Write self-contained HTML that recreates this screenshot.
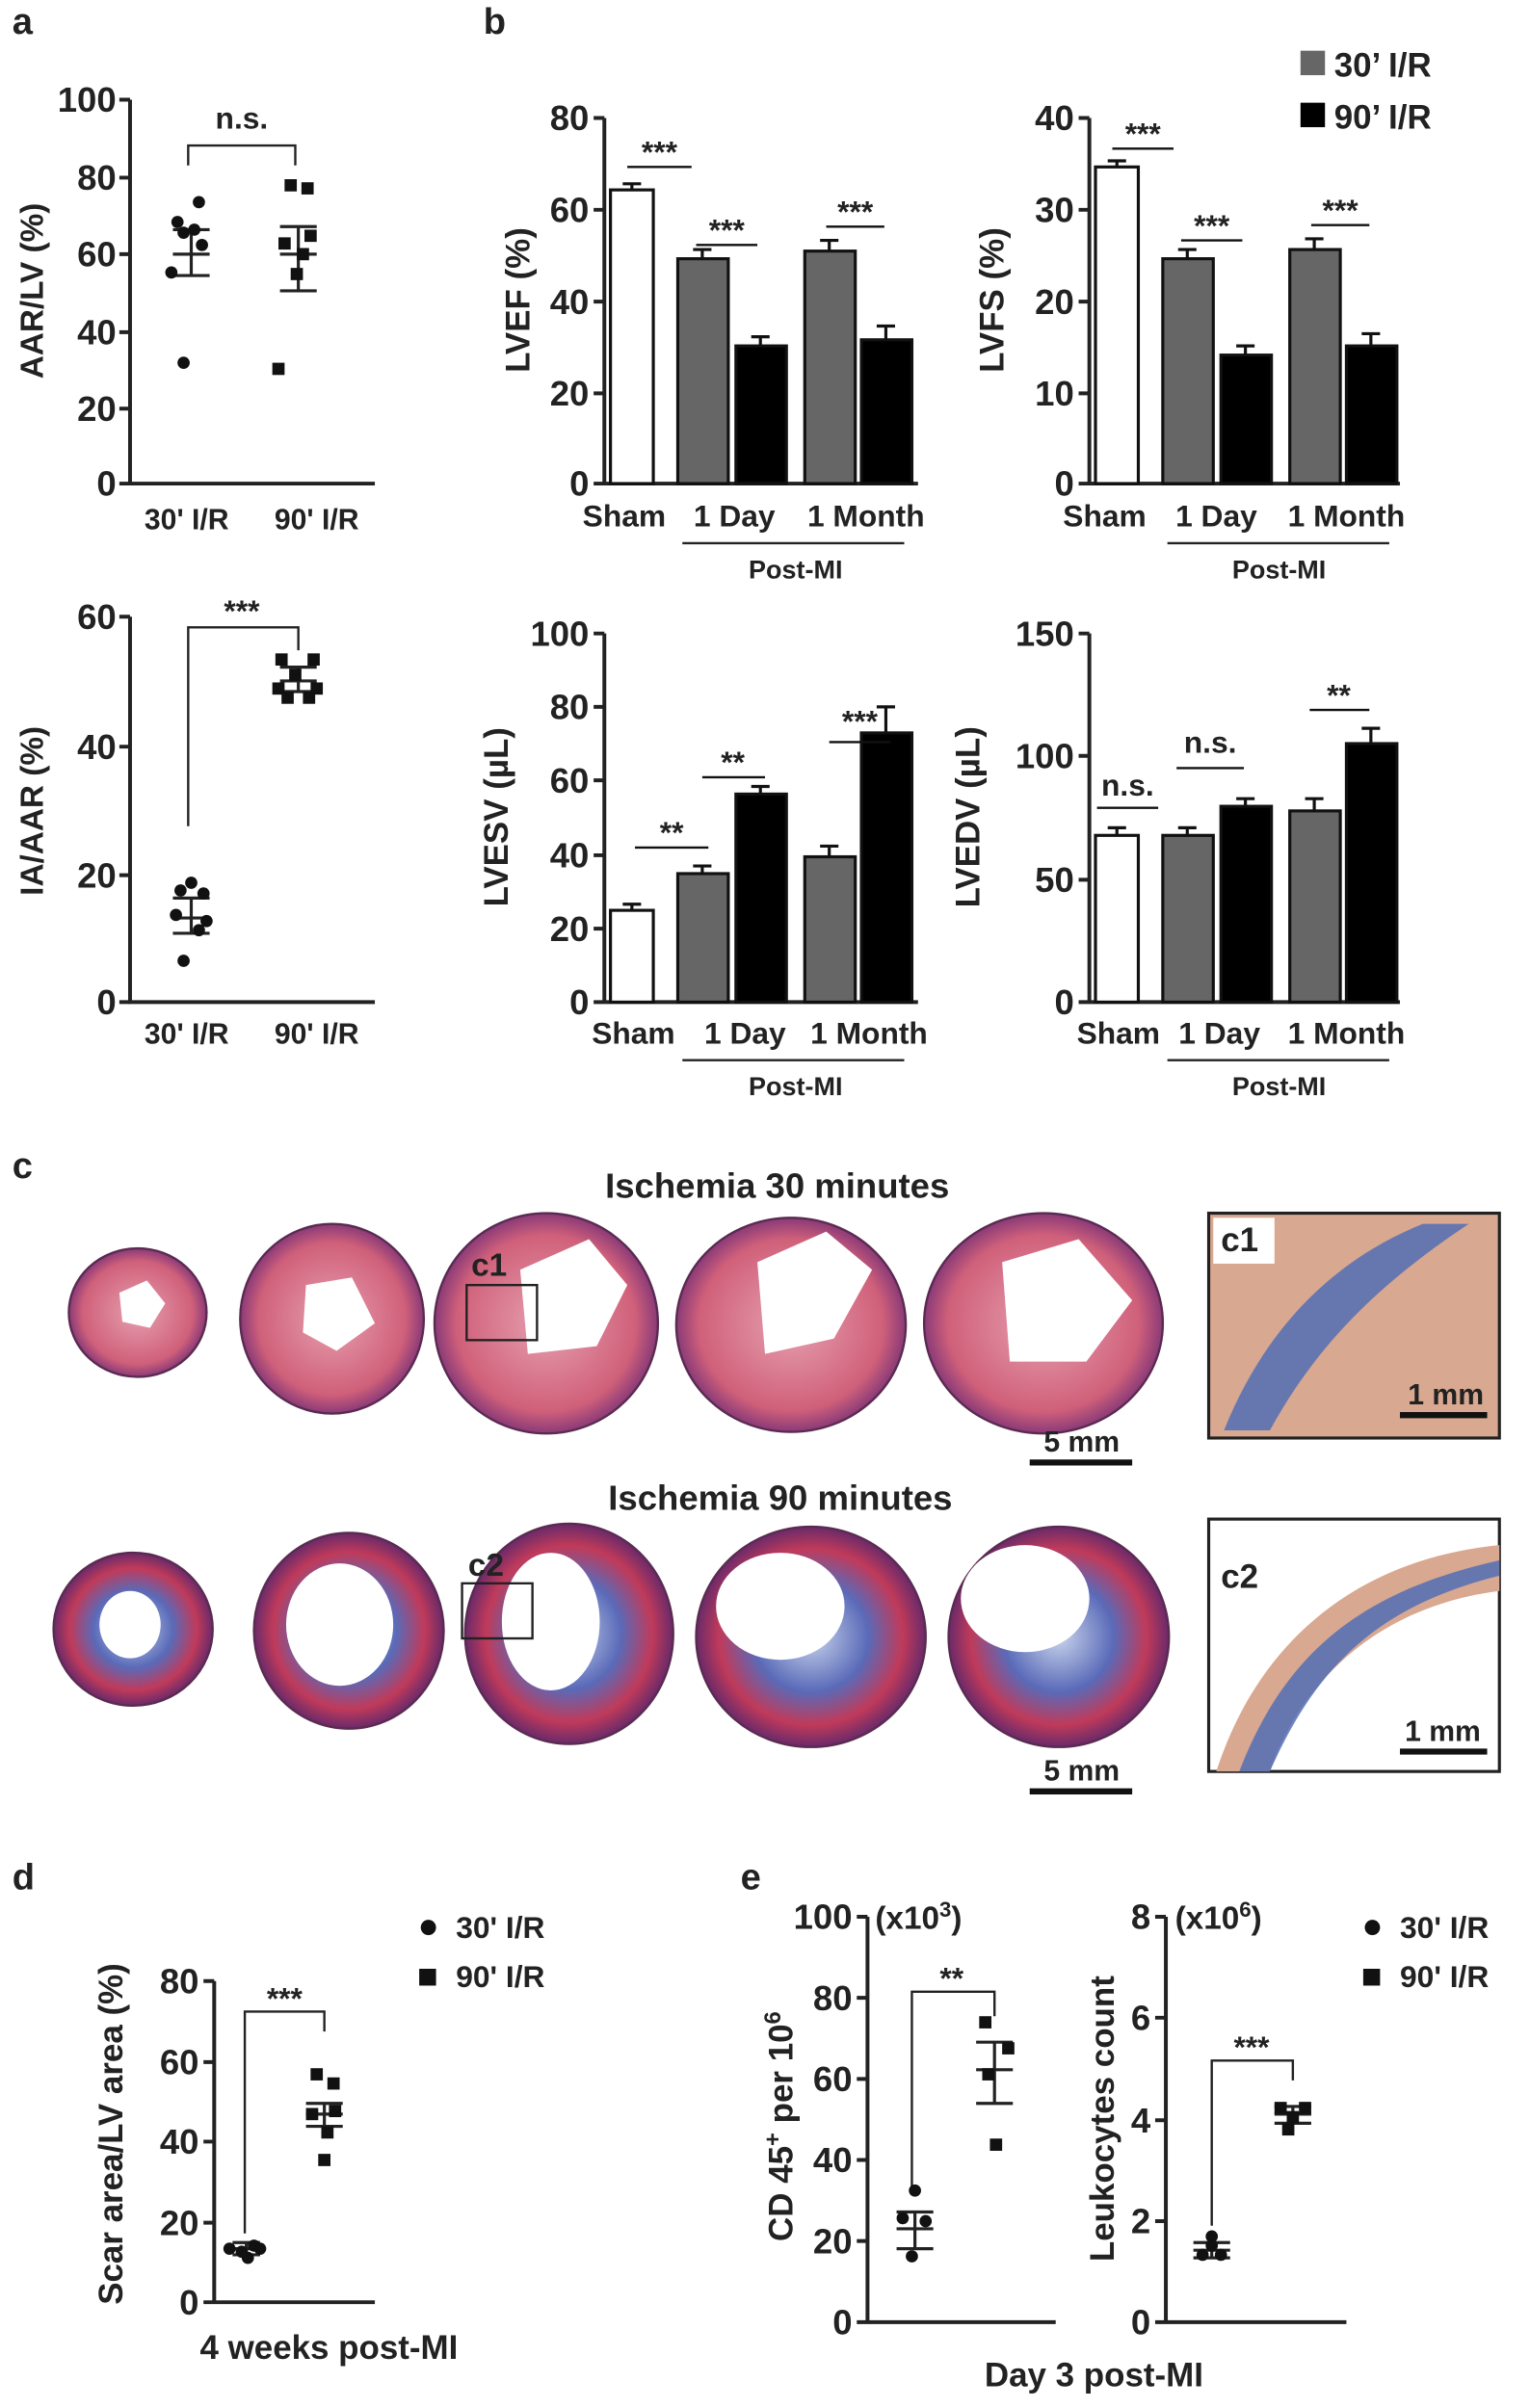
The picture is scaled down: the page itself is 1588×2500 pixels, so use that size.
<!DOCTYPE html>
<html><head><meta charset="utf-8"><style>
html,body{margin:0;padding:0;background:#fff}
svg{display:block}
text{font-family:"Liberation Sans",Arial,sans-serif;font-weight:bold;fill:#222}
</style></head><body>
<svg width="1588" height="2500" viewBox="0 0 1000 1574" xmlns="http://www.w3.org/2000/svg">
<defs>
<radialGradient id="h1" cx="50%" cy="50%" r="50%"><stop offset="0" stop-color="#e6a0b0"/><stop offset="0.8" stop-color="#d0607a"/><stop offset="1" stop-color="#8a3a78"/></radialGradient>
<radialGradient id="h2" cx="50%" cy="50%" r="50%"><stop offset="0" stop-color="#c8d4ec"/><stop offset="0.5" stop-color="#5a6ab8"/><stop offset="0.8" stop-color="#c03a5a"/><stop offset="1" stop-color="#6a2a6a"/></radialGradient>
</defs>
<g stroke="#222" stroke-width="2.5" fill="none">
<path d="M85,65V316H245"/>
<path d="M78,65H85M78,116H85M78,166H85M78,217H85M78,267H85M78,316H85"/>
<path d="M85,403V655H245"/>
<path d="M78,403H85M78,488H85M78,572H85M78,655H85"/>
<path d="M123,108V95H193V108" stroke-width="1.5"/>
<path d="M123,540V410H195V425" stroke-width="1.5"/>
<path d="M113,166H137M125,150V180M113,150H137M113,180H137" stroke-width="2"/>
<path d="M183,166H207M195,148V190M183,148H207M183,190H207" stroke-width="2"/>
<path d="M113,600H137M125,587V610M113,587H137M113,610H137" stroke-width="2"/>
<path d="M183,445H207M195,436V452M183,436H207M183,452H207" stroke-width="2"/>
</g>
<g font-size="23" text-anchor="end">
<text x="76" y="73">100</text><text x="76" y="124">80</text><text x="76" y="174">60</text><text x="76" y="225">40</text><text x="76" y="275">20</text><text x="76" y="324">0</text>
<text x="76" y="411">60</text><text x="76" y="496">40</text><text x="76" y="580">20</text><text x="76" y="663">0</text>
</g>
<g font-size="19" text-anchor="middle">
<text x="122" y="346">30' I/R</text><text x="207" y="346">90' I/R</text>
<text x="122" y="682">30' I/R</text><text x="207" y="682">90' I/R</text>
</g>
<text x="158" y="84" font-size="20" text-anchor="middle" font-weight="normal">n.s.</text>
<text x="158" y="406" font-size="20" text-anchor="middle" font-weight="normal">***</text>
<text transform="translate(28,190) rotate(-90)" font-size="21" text-anchor="middle">AAR/LV (%)</text>
<text transform="translate(28,530) rotate(-90)" font-size="21" text-anchor="middle">IA/AAR (%)</text>
<text x="8" y="22" font-size="24">a</text>
<text x="316" y="22" font-size="24">b</text>
<text x="8" y="770" font-size="24">c</text>
<text x="8" y="1235" font-size="24">d</text>
<text x="484" y="1235" font-size="24">e</text>
<g fill="#111">
<circle cx="120" cy="237" r="4"/><circle cx="116" cy="145" r="4"/><circle cx="130" cy="132" r="4"/><circle cx="120" cy="152" r="4"/><circle cx="132" cy="160" r="4"/><circle cx="112" cy="178" r="4"/><circle cx="127" cy="150" r="4"/>
<rect x="186" y="117" width="8" height="8"/><rect x="197" y="119" width="8" height="8"/><rect x="182" y="155" width="8" height="8"/><rect x="199" y="150" width="8" height="8"/><rect x="190" y="175" width="8" height="8"/><rect x="178" y="237" width="8" height="8"/><rect x="194" y="162" width="8" height="8"/>
<circle cx="125" cy="577" r="4"/><circle cx="118" cy="582" r="4"/><circle cx="133" cy="584" r="4"/><circle cx="115" cy="598" r="4"/><circle cx="135" cy="602" r="4"/><circle cx="120" cy="628" r="4"/><circle cx="130" cy="608" r="4"/>
<rect x="180" y="427" width="8" height="8"/><rect x="201" y="427" width="8" height="8"/><rect x="189" y="437" width="8" height="8"/><rect x="178" y="446" width="8" height="8"/><rect x="203" y="446" width="8" height="8"/><rect x="184" y="452" width="8" height="8"/><rect x="198" y="452" width="8" height="8"/>
</g>

<g stroke="#222" stroke-width="2.5" fill="none">
<path d="M395,77V316H600M388,77H395M388,137H395M388,197H395M388,257H395M388,316H395"/>
<path d="M712,77V316H915M705,77H712M705,137H712M705,197H712M705,257H712M705,316H712"/>
<path d="M395,414V655H600M388,414H395M388,462H395M388,510H395M388,559H395M388,607H395M388,655H395"/>
<path d="M712,414V655H915M705,414H712M705,494H712M705,575H712M705,655H712"/>
<path d="M446,355H591M763,355H908M446,693H591M763,693H908" stroke-width="1.5"/>
</g>
<g stroke="#111" stroke-width="2">
<rect x="399" y="124" width="28" height="192" fill="#fff"/>
<rect x="443" y="169" width="33" height="147" fill="#666"/>
<rect x="481" y="226" width="33" height="90" fill="#000"/>
<rect x="526" y="164" width="33" height="152" fill="#666"/>
<rect x="563" y="222" width="33" height="94" fill="#000"/>
<path d="M413,124V120M407,120H419M459,169V163M453,163H465M497,226V220M491,220H503M542,164V157M536,157H548M579,222V213M573,213H585" fill="none"/>
<rect x="716" y="109" width="28" height="207" fill="#fff"/>
<rect x="760" y="169" width="33" height="147" fill="#666"/>
<rect x="798" y="232" width="33" height="84" fill="#000"/>
<rect x="843" y="163" width="33" height="153" fill="#666"/>
<rect x="880" y="226" width="33" height="90" fill="#000"/>
<path d="M730,109V105M724,105H736M776,169V163M770,163H782M814,232V226M808,226H820M859,163V156M853,156H865M896,226V218M890,218H902" fill="none"/>
<rect x="399" y="595" width="28" height="60" fill="#fff"/>
<rect x="443" y="571" width="33" height="84" fill="#666"/>
<rect x="481" y="519" width="33" height="136" fill="#000"/>
<rect x="526" y="560" width="33" height="95" fill="#666"/>
<rect x="563" y="479" width="33" height="176" fill="#000"/>
<path d="M413,595V591M407,591H419M459,571V566M453,566H465M497,519V514M491,514H503M542,560V553M536,553H548M579,479V462M573,462H585" fill="none"/>
<rect x="716" y="546" width="28" height="109" fill="#fff"/>
<rect x="760" y="546" width="33" height="109" fill="#666"/>
<rect x="798" y="527" width="33" height="128" fill="#000"/>
<rect x="843" y="530" width="33" height="125" fill="#666"/>
<rect x="880" y="486" width="33" height="169" fill="#000"/>
<path d="M730,546V541M724,541H736M776,546V541M770,541H782M814,527V522M808,522H820M859,530V522M853,522H865M896,486V476M890,476H902" fill="none"/>
<path d="M410,109H452M455,160H495M540,148H578M727,97H767M772,157H812M857,147H895M415,554H463M459,508H500M542,485H582M717,528H757M769,502H813M856,464H895" stroke-width="1.5"/>
</g>
<g font-size="20" text-anchor="middle" font-weight="normal">
<text x="431" y="106">***</text><text x="475" y="157">***</text><text x="559" y="145">***</text>
<text x="747" y="94">***</text><text x="792" y="154">***</text><text x="876" y="144">***</text>
<text x="439" y="551">**</text><text x="479" y="505">**</text><text x="562" y="478">***</text>
<text x="737" y="520">n.s.</text><text x="791" y="492">n.s.</text><text x="875" y="461">**</text>
</g>
<g font-size="23" text-anchor="end">
<text x="385" y="85">80</text><text x="385" y="145">60</text><text x="385" y="205">40</text><text x="385" y="265">20</text><text x="385" y="324">0</text>
<text x="702" y="85">40</text><text x="702" y="145">30</text><text x="702" y="205">20</text><text x="702" y="265">10</text><text x="702" y="324">0</text>
<text x="385" y="422">100</text><text x="385" y="470">80</text><text x="385" y="518">60</text><text x="385" y="567">40</text><text x="385" y="615">20</text><text x="385" y="663">0</text>
<text x="702" y="422">150</text><text x="702" y="502">100</text><text x="702" y="583">50</text><text x="702" y="663">0</text>
</g>
<g font-size="20" text-anchor="middle">
<text x="408" y="344">Sham</text><text x="480" y="344">1 Day</text><text x="566" y="344">1 Month</text>
<text x="722" y="344">Sham</text><text x="795" y="344">1 Day</text><text x="880" y="344">1 Month</text>
<text x="414" y="682">Sham</text><text x="487" y="682">1 Day</text><text x="568" y="682">1 Month</text>
<text x="731" y="682">Sham</text><text x="797" y="682">1 Day</text><text x="880" y="682">1 Month</text>
</g>
<g font-size="17" text-anchor="middle">
<text x="520" y="378">Post-MI</text><text x="836" y="378">Post-MI</text>
<text x="520" y="716">Post-MI</text><text x="836" y="716">Post-MI</text>
</g>
<g font-size="22" text-anchor="middle">
<text transform="translate(346,196) rotate(-90)">LVEF (%)</text>
<text transform="translate(656,196) rotate(-90)">LVFS (%)</text>
<text transform="translate(332,534) rotate(-90)">LVESV (µL)</text>
<text transform="translate(640,534) rotate(-90)">LVEDV (µL)</text>
</g>
<rect x="850" y="33" width="16" height="16" fill="#666"/><text x="872" y="50" font-size="22">30’ I/R</text>
<rect x="850" y="67" width="16" height="16" fill="#000"/><text x="872" y="84" font-size="22">90’ I/R</text>

<text x="508" y="783" font-size="23" text-anchor="middle">Ischemia 30 minutes</text>
<text x="510" y="987" font-size="23" text-anchor="middle">Ischemia 90 minutes</text>
<g stroke="#5a2a50" stroke-width="1.5">
<ellipse cx="90" cy="858" rx="45" ry="42" fill="url(#h1)"/>
<ellipse cx="217" cy="862" rx="60" ry="62" fill="url(#h1)"/>
<ellipse cx="357" cy="865" rx="73" ry="72" fill="url(#h1)"/>
<ellipse cx="517" cy="866" rx="75" ry="70" fill="url(#h1)"/>
<ellipse cx="682" cy="865" rx="78" ry="72" fill="url(#h1)"/>
<ellipse cx="87" cy="1065" rx="52" ry="50" fill="url(#h2)"/>
<ellipse cx="228" cy="1066" rx="62" ry="64" fill="url(#h2)"/>
<ellipse cx="372" cy="1068" rx="68" ry="72" fill="url(#h2)"/>
<ellipse cx="530" cy="1070" rx="75" ry="72" fill="url(#h2)"/>
<ellipse cx="692" cy="1070" rx="72" ry="72" fill="url(#h2)"/>
</g>
<g fill="#fff">
<path d="M78,845l18,-8l12,15l-10,16l-18,-4z"/>
<path d="M200,840l30,-5l15,30l-25,18l-22,-12z"/>
<path d="M340,830l45,-20l25,30l-20,40l-45,5z"/>
<path d="M495,825l45,-20l30,25l-25,45l-45,10z"/>
<path d="M655,825l50,-15l35,40l-30,40l-50,0z"/>
<ellipse cx="85" cy="1062" rx="20" ry="22"/>
<ellipse cx="222" cy="1062" rx="35" ry="40"/>
<ellipse cx="360" cy="1060" rx="32" ry="45"/>
<ellipse cx="510" cy="1050" rx="42" ry="35"/>
<ellipse cx="670" cy="1045" rx="42" ry="35"/>
</g>
<g fill="none" stroke="#222" stroke-width="1.5">
<rect x="305" y="840" width="46" height="36"/>
<rect x="302" y="1035" width="46" height="36"/>
</g>
<text x="308" y="834" font-size="21">c1</text>
<text x="306" y="1030" font-size="21">c2</text>
<rect x="790" y="793" width="190" height="147" fill="#d8a890" stroke="#222" stroke-width="2"/>
<path d="M800,935 C830,860 880,820 930,800 L960,800 C900,840 860,880 830,935z" fill="#4a6ab8" opacity="0.8"/>
<rect x="790" y="993" width="190" height="165" fill="#fff" stroke="#222" stroke-width="2"/>
<path d="M795,1158 C820,1080 880,1020 980,1010 L980,1040 C900,1050 850,1100 830,1158z" fill="#d8a890"/>
<path d="M810,1158 C840,1080 890,1040 980,1020 L980,1030 C900,1050 860,1090 830,1158z" fill="#4a6ab8" opacity="0.8"/>
<rect x="793" y="796" width="40" height="30" fill="#fff"/><text x="798" y="818" font-size="22">c1</text>
<rect x="793" y="996" width="40" height="30" fill="#fff"/><text x="798" y="1038" font-size="22">c2</text>
<text x="945" y="918" font-size="19" text-anchor="middle">1 mm</text>
<path d="M915,925H972" stroke="#111" stroke-width="4"/>
<text x="943" y="1138" font-size="19" text-anchor="middle">1 mm</text>
<path d="M915,1145H972" stroke="#111" stroke-width="4"/>
<text x="707" y="949" font-size="19" text-anchor="middle">5 mm</text>
<path d="M673,956H740" stroke="#111" stroke-width="4"/>
<text x="707" y="1164" font-size="19" text-anchor="middle">5 mm</text>
<path d="M673,1171H740" stroke="#111" stroke-width="4"/>

<g stroke="#222" stroke-width="2.5" fill="none">
<path d="M140,1295V1505H245M133,1295H140M133,1348H140M133,1400H140M133,1453H140M133,1505H140"/>
<path d="M160,1460V1315H212V1328" stroke-width="1.5"/>
<path d="M152,1470H170M161,1466V1474M152,1466H170M152,1474H170" stroke-width="2"/>
<path d="M200,1382H224M212,1375V1390M200,1375H224M200,1390H224" stroke-width="2"/>
<path d="M567,1253V1518H690M560,1253H567M560,1306H567M560,1359H567M560,1412H567M560,1465H567M560,1518H567"/>
<path d="M762,1253V1518H880M755,1253H762M755,1319H762M755,1386H762M755,1452H762M755,1518H762"/>
<path d="M596,1430V1302H650V1318" stroke-width="1.5"/>
<path d="M792,1455V1347H845V1360" stroke-width="1.5"/>
<path d="M586,1457H610M598,1446V1470M586,1446H610M586,1470H610" stroke-width="2"/>
<path d="M638,1353H662M650,1335V1375M638,1335H662M638,1375H662" stroke-width="2"/>
<path d="M780,1471H804M792,1466V1476M780,1466H804M780,1476H804" stroke-width="2"/>
<path d="M833,1382H857M845,1377V1388M833,1377H857M833,1388H857" stroke-width="2"/>
</g>
<g fill="#111">
<circle cx="150" cy="1470" r="4"/><circle cx="158" cy="1472" r="4"/><circle cx="166" cy="1468" r="4"/><circle cx="162" cy="1476" r="4"/><circle cx="170" cy="1470" r="4"/>
<rect x="203" y="1352" width="8" height="8"/><rect x="214" y="1358" width="8" height="8"/><rect x="200" y="1378" width="8" height="8"/><rect x="215" y="1376" width="8" height="8"/><rect x="208" y="1408" width="8" height="8"/><rect x="210" y="1390" width="8" height="8"/>
<circle cx="598" cy="1432" r="4"/><circle cx="590" cy="1450" r="4"/><circle cx="605" cy="1452" r="4"/><circle cx="596" cy="1475" r="4"/>
<rect x="640" y="1318" width="8" height="8"/><rect x="655" y="1335" width="8" height="8"/><rect x="642" y="1352" width="8" height="8"/><rect x="647" y="1398" width="8" height="8"/>
<circle cx="792" cy="1462" r="4"/><circle cx="786" cy="1474" r="4"/><circle cx="798" cy="1474" r="4"/><circle cx="792" cy="1468" r="4"/>
<rect x="833" y="1374" width="8" height="8"/><rect x="849" y="1374" width="8" height="8"/><rect x="841" y="1380" width="8" height="8"/><rect x="838" y="1388" width="8" height="8"/>
<circle cx="280" cy="1260" r="5"/><rect x="274" y="1287" width="11" height="11"/>
<circle cx="897" cy="1260" r="5"/><rect x="891" y="1287" width="11" height="11"/>
</g>
<g font-size="20">
<text x="298" y="1267">30' I/R</text><text x="298" y="1299">90' I/R</text>
<text x="915" y="1267">30' I/R</text><text x="915" y="1299">90' I/R</text>
</g>
<g font-size="20" text-anchor="middle" font-weight="normal">
<text x="186" y="1313">***</text><text x="622" y="1300">**</text><text x="818" y="1345">***</text>
</g>
<g font-size="23" text-anchor="end">
<text x="130" y="1303">80</text><text x="130" y="1356">60</text><text x="130" y="1408">40</text><text x="130" y="1461">20</text><text x="130" y="1513">0</text>
<text x="557" y="1261">100</text><text x="557" y="1314">80</text><text x="557" y="1367">60</text><text x="557" y="1420">40</text><text x="557" y="1473">20</text><text x="557" y="1526">0</text>
<text x="752" y="1261">8</text><text x="752" y="1327">6</text><text x="752" y="1394">4</text><text x="752" y="1460">2</text><text x="752" y="1526">0</text>
</g>
<text x="572" y="1261" font-size="21">(x10<tspan font-size="14" dy="-8">3</tspan><tspan dy="8">)</tspan></text>
<text x="768" y="1261" font-size="21">(x10<tspan font-size="14" dy="-8">6</tspan><tspan dy="8">)</tspan></text>
<text transform="translate(80,1395) rotate(-90)" font-size="22" text-anchor="middle">Scar area/LV area (%)</text>
<text transform="translate(518,1390) rotate(-90)" font-size="22" text-anchor="middle">CD 45<tspan font-size="15" dy="-8">+</tspan><tspan dy="8"> per 10</tspan><tspan font-size="15" dy="-8">6</tspan></text>
<text transform="translate(728,1385) rotate(-90)" font-size="22" text-anchor="middle">Leukocytes count</text>
<text x="215" y="1542" font-size="22" text-anchor="middle">4 weeks post-MI</text>
<text x="715" y="1560" font-size="22" text-anchor="middle">Day 3 post-MI</text>
</svg>
</body></html>
